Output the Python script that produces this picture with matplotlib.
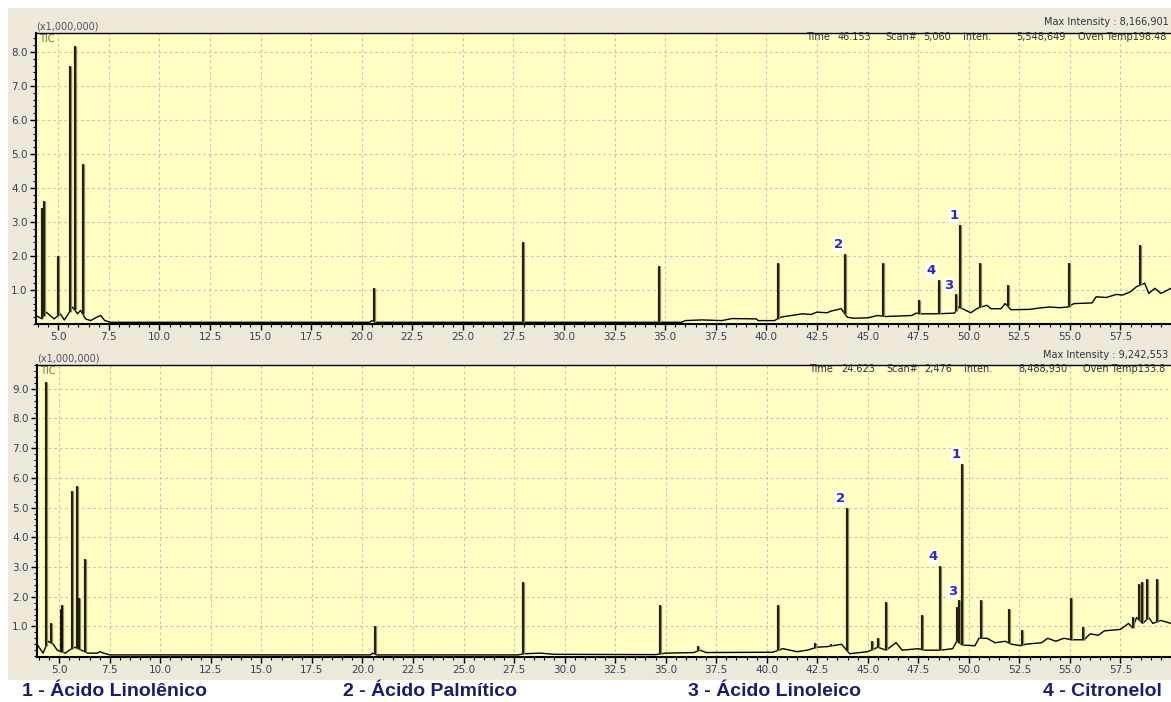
import numpy as np
import matplotlib
matplotlib.use("Agg")
import matplotlib.pyplot as plt
from matplotlib.patches import Rectangle
from matplotlib.ticker import MultipleLocator, FormatStrFormatter

# --- chromatogram 1 (top), intensities in x1,000,000 ---
top_base_t = [3.9, 4.2, 4.4, 4.6, 4.8, 5.1, 5.3, 5.5, 5.7, 5.95, 6.1, 6.35, 6.6, 6.9, 7.1, 7.3, 7.6,
              20.4, 20.5, 20.7, 35.8, 36.0, 36.8, 37.8, 38.3, 39.5, 39.6, 40.4, 40.7, 41.0, 41.8,
              42.2, 42.5, 43.0, 43.2, 43.7, 44.0, 44.3, 45.0, 45.5, 45.9, 47.2, 47.4, 47.6, 48.4,
              49.3, 49.5, 49.8, 50.1, 50.4, 50.6, 50.9, 51.1, 51.6, 51.8, 52.1, 53.0, 53.5, 54.0,
              54.5, 54.9, 55.2, 56.1, 56.3, 56.8, 57.3, 57.6, 58.0, 58.3, 58.7, 58.9, 59.2, 59.5, 60.0]
top_base_y = [0.25, 0.15, 0.35, 0.25, 0.15, 0.3, 0.12, 0.3, 0.5, 0.3, 0.4, 0.15, 0.1, 0.2, 0.25, 0.1, 0.05,
              0.05, 0.1, 0.05, 0.05, 0.1, 0.12, 0.1, 0.16, 0.15, 0.1, 0.1, 0.2, 0.23, 0.3,
              0.28, 0.35, 0.33, 0.38, 0.45, 0.2, 0.17, 0.18, 0.25, 0.22, 0.25, 0.32, 0.3, 0.3,
              0.32, 0.5, 0.42, 0.33, 0.45, 0.5, 0.55, 0.45, 0.45, 0.6, 0.42, 0.43, 0.47, 0.5,
              0.48, 0.5, 0.6, 0.62, 0.8, 0.78, 0.87, 0.85, 0.95, 1.1, 1.2, 0.9, 1.05, 0.9, 1.05]
top_peak_t = [4.22, 4.28, 5.0, 5.56, 5.81, 6.22, 20.62, 27.95, 34.67, 40.56, 43.9, 45.77, 47.53,
              48.51, 49.37, 49.58, 50.58, 51.94, 54.94, 58.49]
top_peak_h = [3.4, 3.62, 2.0, 7.6, 8.17, 4.71, 1.05, 2.42, 1.72, 1.8, 2.07, 1.78, 0.72,
              1.3, 0.87, 2.92, 1.8, 1.15, 1.78, 2.32]
top_labels = {"1": (49.58, 2.92), "2": (43.9, 2.07), "3": (49.37, 0.87), "4": (48.51, 1.3)}

# --- chromatogram 2 (bottom) ---
bot_base_t = [3.9, 4.2, 4.45, 4.7, 4.9, 5.3, 5.5, 5.75, 6.1, 6.4, 6.9, 7.0, 7.2, 7.5, 20.4, 20.5,
              20.7, 27.7, 28.0, 28.8, 29.5, 34.5, 35.0, 36.4, 36.7, 37.0, 40.3, 40.8, 41.5, 42.0,
              42.5, 43.0, 43.7, 44.1, 45.0, 45.5, 45.9, 46.4, 46.7, 47.5, 47.8, 48.6, 49.2, 49.4,
              49.7, 50.3, 50.5, 50.9, 51.3, 51.8, 52.1, 52.6, 52.8, 53.6, 53.9, 54.3, 54.7, 55.1,
              55.7, 56.0, 56.4, 56.7, 57.5, 57.9, 58.1, 58.3, 58.6, 58.9, 59.1, 59.5, 60.0]
bot_base_y = [0.4, 0.1, 0.5, 0.4, 0.2, 0.1, 0.2, 0.3, 0.2, 0.1, 0.1, 0.15, 0.1, 0.04, 0.04, 0.1,
              0.04, 0.04, 0.08, 0.1, 0.06, 0.05, 0.1, 0.12, 0.2, 0.12, 0.13, 0.25, 0.15, 0.2,
              0.3, 0.32, 0.4, 0.08, 0.15, 0.3, 0.2, 0.45, 0.2, 0.25, 0.2, 0.2, 0.25, 0.5,
              0.37, 0.35, 0.6, 0.6, 0.45, 0.5, 0.4, 0.35, 0.4, 0.45, 0.6, 0.5, 0.6, 0.55,
              0.55, 0.75, 0.7, 0.85, 0.9, 1.1, 0.95, 1.3, 1.1, 1.3, 1.1, 1.2, 1.1]
bot_peak_t = [4.36, 4.6, 5.1, 5.15, 5.63, 5.89, 6.0, 6.29, 20.62, 27.95, 34.7, 36.6, 40.56, 42.4,
              43.2, 43.98, 45.2, 45.5, 45.88, 47.68, 48.58, 49.41, 49.53, 49.68, 50.62, 51.99,
              52.63, 55.03, 55.63, 58.1, 58.43, 58.58, 58.82, 59.3]
bot_peak_h = [9.24, 1.1, 1.6, 1.71, 5.56, 5.73, 1.97, 3.27, 1.02, 2.5, 1.72, 0.35, 1.72, 0.45,
              0.4, 5.0, 0.5, 0.6, 1.83, 1.4, 3.05, 1.66, 1.88, 6.48, 1.88, 1.58,
              0.88, 1.96, 0.97, 1.3, 2.44, 2.5, 2.58, 2.6]
bot_labels = {"1": (49.68, 6.48), "2": (43.98, 5.0), "3": (49.53, 1.88), "4": (48.58, 3.05)}

compounds = ["1 - Ácido Linolênico", "2 - Ácido Palmítico", "3 - Ácido Linoleico", "4 - Citronelol"]

W, H = 1171, 702
fig = plt.figure(figsize=(W / 100, H / 100), dpi=100, facecolor="white")
fig.patches.append(Rectangle((8 / W, 1 - 680 / H), 1, (680 - 8) / H, transform=fig.transFigure,
                             facecolor="#ECE9D8", edgecolor="none", zorder=-10))


def draw_panel(rect, base_t, base_y, peak_t, peak_h, labels, ymax, nmax, ymin=0.0):
    ax = fig.add_axes(rect, zorder=2)
    ax.set_facecolor("#FFFFC4")
    ax.set_xlim(3.9, 60.0)
    ax.set_ylim(ymin, ymax)
    ax.plot(base_t, base_y, color="black", lw=1.0, zorder=3)
    pb = np.interp(peak_t, base_t, base_y)
    ax.vlines(peak_t, pb, peak_h, color="#8C8C5A", lw=2.4, zorder=3)
    ax.vlines(peak_t, pb, peak_h, color="black", lw=1.1, zorder=4)
    for k, (t, h) in labels.items():
        dx = -0.35 if k != "1" else -0.3
        ax.text(t + dx, h + 0.08, k, color="#2B2BB0", fontsize=9.5, fontweight="bold",
                ha="center", va="bottom", zorder=5,
                bbox=dict(facecolor="white", edgecolor="none", pad=0.6))
    ax.set_xticks(np.arange(5.0, 58.0, 2.5))
    ax.xaxis.set_minor_locator(MultipleLocator(0.5))
    ax.xaxis.set_major_formatter(FormatStrFormatter("%.1f"))
    ax.set_yticks(np.arange(1.0, nmax + 0.5, 1.0))
    ax.yaxis.set_minor_locator(MultipleLocator(0.2))
    ax.yaxis.set_major_formatter(FormatStrFormatter("%.1f"))
    ax.tick_params(axis="both", which="major", labelsize=7.5, labelcolor="#3C3C5A",
                   length=4, width=1, direction="out", pad=2)
    ax.tick_params(axis="both", which="minor", length=2, width=0.8, direction="out")
    ax.grid(True, which="major", color="#C4C4B8", ls=(0, (2.5, 2.5)), lw=0.8)
    ax.set_axisbelow(True)
    for s in ["left", "bottom"]:
        ax.spines[s].set_linewidth(1.5)
    ax.spines["top"].set_linewidth(1.0)
    ax.spines["right"].set_visible(False)
    ax.text(0.003, 0.997, "TIC", transform=ax.transAxes, fontsize=7, color="#6E6E40",
            ha="left", va="top")
    ax.text(0.0, 1.005, "(x1,000,000)", transform=ax.transAxes, fontsize=7, color="#5A4A6A",
            ha="left", va="bottom")
    return ax


left = 36 / W
draw_panel([left, 1 - 324 / H, 1 - left, (324 - 33) / H],
           top_base_t, top_base_y, top_peak_t, top_peak_h, top_labels, 8.56, 8)
draw_panel([left + 1 / W, 1 - 657 / H, 1 - left - 1 / W, (657 - 365) / H],
           bot_base_t, bot_base_y, bot_peak_t, bot_peak_h, bot_labels, 9.8, 9, ymin=-0.03)

# instrument header texts
hdr = dict(fontsize=7, color="#303040", va="center", ha="left", zorder=6)
fig.text(0.998, 1 - 22 / H, "Max Intensity : 8,166,901", **dict(hdr, ha="right"))
fig.text(0.998, 1 - 355 / H, "Max Intensity : 9,242,553", **dict(hdr, ha="right"))
top_info = [(806, "Time"), (838, "46.153"), (885, "Scan#"), (923, "5,060"), (963, "Inten."),
            (1016, "5,548,649"), (1078, "Oven Temp198.48")]
bot_info = [(809, "Time"), (841, "24.623"), (886, "Scan#"), (924, "2,476"), (964, "Inten."),
            (1018, "8,488,930"), (1083, "Oven Temp133.8")]
for px, s in top_info:
    fig.text(px / W, 1 - 37 / H, s, **hdr)
for px, s in bot_info:
    fig.text(px / W, 1 - 369 / H, s, **hdr)

# compound legend
for px, s in zip([22, 343, 688, 1043], compounds):
    fig.text(px / W, 1 - 692 / H, s, fontsize=14, fontweight="bold", color="#1C1C6E",
             ha="left", va="center", family="Liberation Sans")

fig.savefig("out.png", dpi=100, facecolor="white")
